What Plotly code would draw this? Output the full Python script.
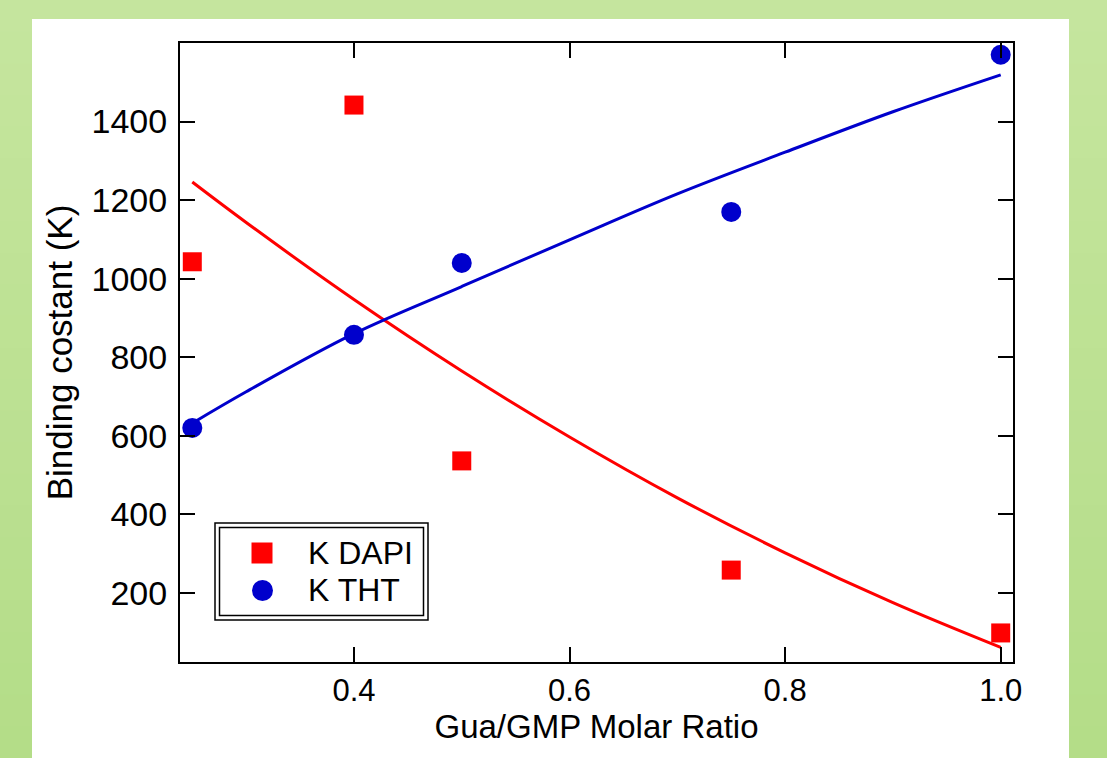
import plotly.graph_objects as go

# ---- data ----
ratio = [0.25, 0.4, 0.5, 0.75, 1.0]
k_dapi = [1043, 1442, 536, 258, 98]
k_tht = [620, 857, 1040, 1170, 1570]

fit_x = [0.25, 0.3, 0.4, 0.5, 0.6, 0.7, 0.8, 0.9, 1.0]
fit_dapi = [1246, 1143, 947, 765, 597, 442, 302, 175, 61]
fit_tht = [632, 712, 860, 980, 1099, 1216, 1322, 1425, 1519]

x_ticks = [0.4, 0.6, 0.8, 1.0]
x_tick_labels = ["0.4", "0.6", "0.8", "1.0"]
y_ticks = [200, 400, 600, 800, 1000, 1200, 1400]

series_names = ["K DAPI", "K THT"]

RED = "#ff0000"
BLUE = "#0000cc"
FONT = "Liberation Sans, Arial, sans-serif"

W, H = 1107, 758
L, R, T, B = 180, 1013, 43, 662


def px(x):
    return (x - L) / (R - L)


def py(y):
    return (B - y) / (B - T)


fig = go.Figure()
fig.add_trace(go.Scatter(x=fit_x, y=fit_dapi, mode="lines", line=dict(color=RED, width=3, shape="spline"),
                         showlegend=False, hoverinfo="skip"))
fig.add_trace(go.Scatter(x=fit_x, y=fit_tht, mode="lines", line=dict(color=BLUE, width=3, shape="spline"),
                         showlegend=False, hoverinfo="skip"))
fig.add_trace(go.Scatter(x=ratio, y=k_dapi, mode="markers", name=series_names[0],
                         marker=dict(symbol="square", size=19, color=RED)))
fig.add_trace(go.Scatter(x=ratio, y=k_tht, mode="markers", name=series_names[1],
                         marker=dict(symbol="circle", size=20, color=BLUE)))

shapes = []
# green gradient background
top_c = (197, 229, 158)
bot_c = (180, 221, 136)
n = 24
for i in range(n):
    f = i / (n - 1)
    c = tuple(int(round(top_c[k] + (bot_c[k] - top_c[k]) * f)) for k in range(3))
    y0 = i * H / n
    y1 = (i + 1) * H / n + 1
    shapes.append(dict(type="rect", xref="paper", yref="paper", layer="below",
                       x0=px(0), x1=px(W), y0=py(y1), y1=py(y0),
                       fillcolor="rgb(%d,%d,%d)" % c, line=dict(width=0)))
# white panel
shapes.append(dict(type="rect", xref="paper", yref="paper", layer="below",
                   x0=px(32), x1=px(1069), y0=py(H + 5), y1=py(19),
                   fillcolor="white", line=dict(width=0)))
# legend box (double border)
shapes.append(dict(type="rect", xref="paper", yref="paper", layer="above",
                   x0=px(215), x1=px(428), y0=py(620), y1=py(523),
                   line=dict(color="black", width=1.5), fillcolor="white"))
shapes.append(dict(type="rect", xref="paper", yref="paper", layer="above",
                   x0=px(219.5), x1=px(423.5), y0=py(615.5), y1=py(527.5),
                   line=dict(color="black", width=1.5), fillcolor="rgba(0,0,0,0)"))
# legend symbols
shapes.append(dict(type="rect", xref="paper", yref="paper", layer="above",
                   x0=px(251.5), x1=px(272.5), y0=py(563.5), y1=py(542.5),
                   line=dict(width=0), fillcolor=RED))
shapes.append(dict(type="circle", xref="paper", yref="paper", layer="above",
                   x0=px(252), x1=px(273), y0=py(601), y1=py(580),
                   line=dict(width=0), fillcolor=BLUE))

annotations = [
    dict(text=series_names[0], xref="paper", yref="paper", x=px(306), y=py(553),
         xanchor="left", yanchor="middle", showarrow=False,
         font=dict(family=FONT, size=32, color="black")),
    dict(text=series_names[1], xref="paper", yref="paper", x=px(306), y=py(590),
         xanchor="left", yanchor="middle", showarrow=False,
         font=dict(family=FONT, size=32, color="black")),
]

axis_common = dict(showline=True, linecolor="black", linewidth=2, mirror="allticks",
                   ticks="inside", ticklen=15, tickwidth=2, tickcolor="black",
                   showgrid=False, zeroline=False)

fig.update_layout(
    width=W, height=H,
    margin=dict(l=L, r=W - R, t=T, b=H - B),
    paper_bgcolor="rgb(197,229,158)",
    plot_bgcolor="rgba(0,0,0,0)",
    shapes=shapes,
    annotations=annotations,
    font=dict(family=FONT, color="black"),
    xaxis=dict(range=[0.2386, 1.0114], tickvals=x_ticks, ticktext=x_tick_labels,
               tickfont=dict(family=FONT, size=31, color="black"),
               title=dict(text="Gua/GMP Molar Ratio", font=dict(family=FONT, size=33), standoff=8),
               **axis_common),
    yaxis=dict(range=[24, 1600], tickvals=y_ticks, ticklabelstandoff=4,
               tickfont=dict(family=FONT, size=34, color="black"),
               title=dict(text="Binding costant (K)", font=dict(family=FONT, size=35), standoff=8),
               **axis_common),
    showlegend=False,
)

fig.write_html("out.html", config={"displayModeBar": False},
               post_script="document.body.style.margin='0';document.body.style.overflow='hidden';")
